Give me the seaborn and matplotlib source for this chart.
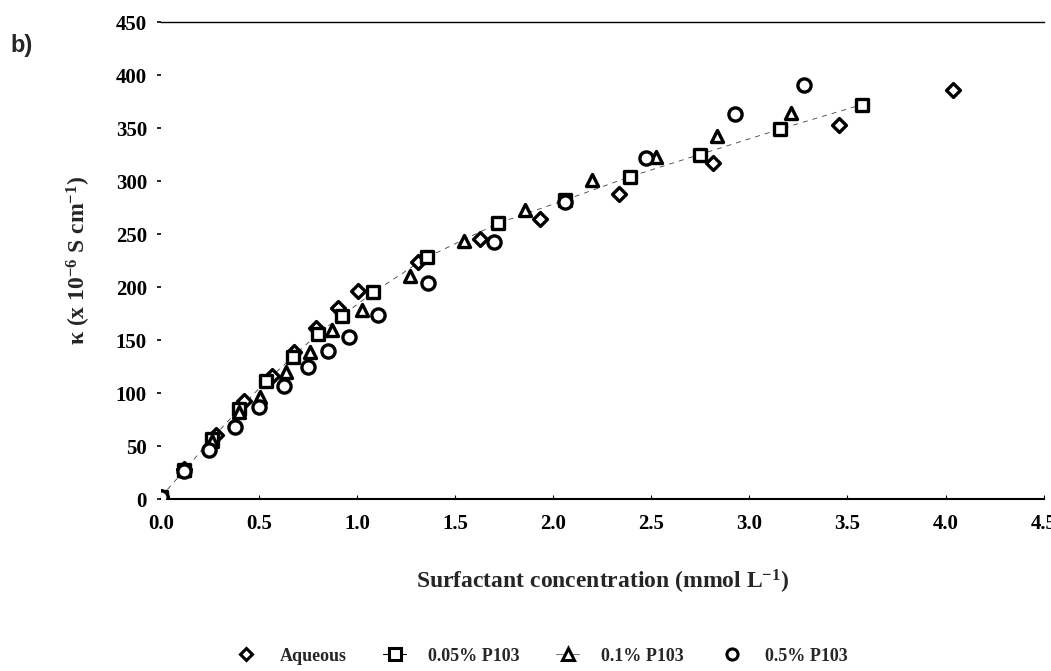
import matplotlib
matplotlib.use("Agg")
import matplotlib.pyplot as plt
from matplotlib.lines import Line2D
import seaborn as sns
import pandas as pd

# ---- data ----
series_names = ["Aqueous", "0.05% P103", "0.1% P103", "0.5% P103"]

x_aqueous = [0.0, 0.12, 0.28, 0.425, 0.567, 0.68, 0.79, 0.903, 1.006, 1.313, 1.626, 1.933, 2.337, 2.815, 3.456, 4.037]
y_aqueous = [2, 28, 60, 92, 116, 139, 161, 180, 196, 224, 245, 264, 288, 317, 353, 386]

x_p005 = [0.0, 0.12, 0.26, 0.40, 0.536, 0.673, 0.80, 0.925, 1.083, 1.356, 1.718, 2.06, 2.39, 2.747, 3.157, 3.572]
y_p005 = [2, 27, 57, 85, 111, 134, 156, 173, 195, 228, 260, 282, 304, 325, 349, 372]

x_p01 = [0.0, 0.12, 0.26, 0.40, 0.505, 0.64, 0.758, 0.874, 1.023, 1.27, 1.543, 1.855, 2.20, 2.525, 2.833, 3.214]
y_p01 = [2, 27, 55, 82, 96, 120, 139, 159, 178, 210, 243, 273, 301, 323, 342, 364]

x_p05 = [0.0, 0.12, 0.245, 0.377, 0.50, 0.627, 0.75, 0.852, 0.96, 1.108, 1.364, 1.697, 2.06, 2.474, 2.927, 3.277]
y_p05 = [2, 26, 46, 68, 87, 107, 125, 140, 153, 174, 204, 242, 280, 322, 363, 391]

x_ticks = [0.0, 0.5, 1.0, 1.5, 2.0, 2.5, 3.0, 3.5, 4.0, 4.5]
y_ticks = [0, 50, 100, 150, 200, 250, 300, 350, 400, 450]

df = pd.concat([
    pd.DataFrame({"x": x_aqueous, "y": y_aqueous, "series": series_names[0]}),
    pd.DataFrame({"x": x_p005, "y": y_p005, "series": series_names[1]}),
    pd.DataFrame({"x": x_p01, "y": y_p01, "series": series_names[2]}),
    pd.DataFrame({"x": x_p05, "y": y_p05, "series": series_names[3]}),
], ignore_index=True)

sns.set_theme(style="white")
plt.rcParams['font.family'] = ['Liberation Serif', 'DejaVu Serif']
plt.rcParams['mathtext.fontset'] = 'custom'
plt.rcParams['mathtext.rm'] = 'Liberation Serif:bold'
plt.rcParams['mathtext.it'] = 'Liberation Serif:bold'
plt.rcParams['mathtext.bf'] = 'Liberation Serif:bold'

fig = plt.figure(figsize=(10.51, 6.71), dpi=100)
ax = fig.add_axes([0.153, 0.2563, 0.840, 0.7109])

markers = {"Aqueous": "D", "0.05% P103": "s", "0.1% P103": "^", "0.5% P103": "o"}
sizes = {"Aqueous": 50, "0.05% P103": 85, "0.1% P103": 75, "0.5% P103": 90}

# dashed trend through the 0.05% series
sns.lineplot(data=df[df["series"] == "0.05% P103"], x="x", y="y", ax=ax,
             color="0.25", linewidth=0.6, linestyle=(0, (6, 6)), sort=True,
             estimator=None, legend=False)

for name in series_names:
    sub = df[df["series"] == name]
    sns.scatterplot(data=sub, x="x", y="y", ax=ax, marker=markers[name],
                    s=sizes[name], facecolor="white", edgecolor="black",
                    linewidth=2.4, legend=False, zorder=3)

ax.set_xlim(0, 4.5)
ax.set_ylim(0, 450)
ax.set_xticks(x_ticks)
ax.set_xticklabels([f"{v:.1f}" for v in x_ticks])
ax.set_yticks(y_ticks)
ax.set_yticklabels([str(v) for v in y_ticks])

for s in ["left", "right"]:
    ax.spines[s].set_visible(False)
ax.spines["bottom"].set_color("black")
ax.spines["bottom"].set_linewidth(1.5)
ax.spines["top"].set_color("black")
ax.spines["top"].set_linewidth(1.0)

ax.tick_params(axis="y", which="both", left=True, length=3, width=1.2,
               direction="out", pad=7, labelsize=15, colors="black")
ax.tick_params(axis="x", which="both", bottom=True, length=3, width=0.8,
               direction="in", pad=11, labelsize=15, colors="black")
for lab in ax.get_xticklabels() + ax.get_yticklabels():
    lab.set_fontweight("bold")

ax.set_xlabel(r"Surfactant concentration (mmol L$^{\mathbf{-1}}$)", fontsize=17,
              fontweight="bold", labelpad=24)
ax.set_ylabel(r"$\kappa$ (x 10$^{\mathbf{-6}}$ S cm$^{\mathbf{-1}}$)", fontsize=17,
              fontweight="bold", labelpad=16)

fig.text(0.01, 0.922, "b)", fontsize=17, fontweight="bold",
         family=["Liberation Sans", "DejaVu Sans"])

handles = [
    Line2D([], [], marker="D", markersize=6, markerfacecolor="white",
           markeredgecolor="black", markeredgewidth=2.2, linestyle="none"),
    Line2D([], [], marker="s", markersize=8, markerfacecolor="white",
           markeredgecolor="black", markeredgewidth=2.2, color="black",
           linestyle="-", linewidth=0.8),
    Line2D([], [], marker="^", markersize=8, markerfacecolor="white",
           markeredgecolor="black", markeredgewidth=2.2, color="gray",
           linestyle="-", linewidth=0.8),
    Line2D([], [], marker="o", markersize=8, markerfacecolor="white",
           markeredgecolor="black", markeredgewidth=2.2, linestyle="none"),
]
leg = fig.legend(handles, series_names, loc="center", ncol=4,
                 bbox_to_anchor=(0.515, 0.022), frameon=False,
                 handlelength=1.3, columnspacing=2.0, handletextpad=1.2,
                 prop={"family": "Liberation Serif", "weight": "bold", "size": 13})

fig.savefig("out.png", dpi=100)
